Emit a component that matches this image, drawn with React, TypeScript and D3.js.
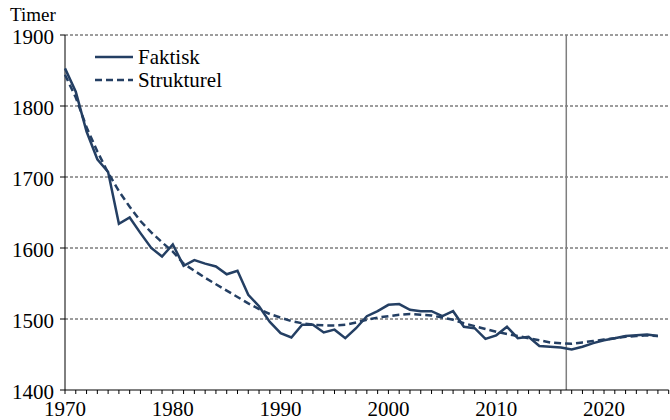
import React, { useEffect, useRef } from "react";
import * as d3 from "d3";

const years: number[] = d3.range(1970, 2026);
const faktisk: number[] = [
  1853, 1820, 1764, 1725, 1707, 1634, 1643, 1621, 1600, 1588,
  1605, 1575, 1583, 1578, 1574, 1563, 1568, 1534, 1518, 1496,
  1480, 1474, 1492, 1492, 1481, 1485, 1473, 1487, 1504, 1511,
  1520, 1521, 1513, 1511, 1511, 1504, 1511, 1489, 1487, 1472,
  1477, 1489, 1473, 1475, 1462, 1461, 1460, 1457, 1461, 1466,
  1470, 1473, 1476, 1477, 1478, 1476,
];
const strukturel: number[] = [
  1844, 1812, 1770, 1736, 1706, 1680, 1658, 1638, 1622, 1608,
  1595, 1578, 1568, 1558, 1549, 1540, 1531, 1522, 1514, 1507,
  1502, 1497, 1494, 1492, 1491, 1491, 1492, 1495, 1499, 1502,
  1504, 1506, 1507, 1506, 1505, 1502, 1499, 1494, 1490, 1486,
  1482, 1479, 1476, 1473, 1470, 1467, 1466, 1465, 1467, 1469,
  1471, 1473, 1475, 1476, 1477, 1476,
];
const yTicks: number[] = [1400, 1500, 1600, 1700, 1800, 1900];
const xLabels: number[] = [1970, 1980, 1990, 2000, 2010, 2020];
const seriesNames: string[] = ["Faktisk", "Strukturel"];
const yTitle = "Timer";
const markerYear = 2016.5;

const W = 670;
const H = 420;
const NAVY = "#243f63";
const FONT = "Times New Roman";

export default function App() {
  const ref = useRef<SVGSVGElement>(null);
  useEffect(() => {
    const svg = d3.select(ref.current);
    svg.selectAll("*").remove();
    const x = d3.scaleLinear().domain([1970, 2026]).range([65, 668.7]);
    const y = d3.scaleLinear().domain([1400, 1900]).range([390, 35]);
    const [x0, x1] = x.range();
    const line = d3
      .line<number>()
      .x((_, i) => x(years[i]))
      .y((d) => y(d));

    svg.append("rect").attr("width", W).attr("height", H).attr("fill", "#fff");

    svg
      .selectAll("line.grid")
      .data(yTicks.filter((t) => t > 1400))
      .join("line")
      .attr("x1", x0)
      .attr("x2", x1)
      .attr("y1", (d) => y(d))
      .attr("y2", (d) => y(d))
      .attr("stroke", "#3a3a3a")
      .attr("stroke-dasharray", "3,2");

    svg
      .append("line")
      .attr("x1", x(markerYear))
      .attr("x2", x(markerYear))
      .attr("y1", y(1900))
      .attr("y2", y(1400))
      .attr("stroke", "#7f7f7f")
      .attr("stroke-width", 1.5);

    svg.append("line").attr("x1", x0).attr("x2", x0).attr("y1", y(1900)).attr("y2", y(1400)).attr("stroke", "#000");
    svg.append("line").attr("x1", x0).attr("x2", x1).attr("y1", y(1400)).attr("y2", y(1400)).attr("stroke", "#000");

    svg
      .selectAll("line.yt")
      .data(yTicks)
      .join("line")
      .attr("x1", x0 - 5)
      .attr("x2", x0)
      .attr("y1", (d) => y(d))
      .attr("y2", (d) => y(d))
      .attr("stroke", "#000");

    svg
      .selectAll("line.xt")
      .data(d3.range(1970, 2027))
      .join("line")
      .attr("x1", (d) => x(d))
      .attr("x2", (d) => x(d))
      .attr("y1", y(1400))
      .attr("y2", y(1400) + 4)
      .attr("stroke", "#000");

    const addText = (tx: number, ty: number, s: string, size: number, anchor: string) =>
      svg
        .append("text")
        .attr("x", tx)
        .attr("y", ty)
        .attr("font-family", FONT)
        .style("font-family", `"${FONT}"`)
        .attr("font-size", size)
        .attr("text-anchor", anchor)
        .attr("fill", "#000")
        .text(s);

    yTicks.forEach((t) => addText(54, y(t) + 9, String(t), 21, "end"));
    xLabels.forEach((t) => addText(x(t), 416, String(t), 21, "middle"));
    addText(10, 21, yTitle, 19, "start");

    svg
      .append("path")
      .attr("d", line(strukturel) || "")
      .attr("fill", "none")
      .attr("stroke", NAVY)
      .attr("stroke-width", 2.5)
      .attr("stroke-dasharray", "7,4");
    svg
      .append("path")
      .attr("d", line(faktisk) || "")
      .attr("fill", "none")
      .attr("stroke", NAVY)
      .attr("stroke-width", 2.5);

    svg.append("line").attr("x1", 95).attr("x2", 133).attr("y1", 57).attr("y2", 57).attr("stroke", NAVY).attr("stroke-width", 2.5);
    addText(138, 64, seriesNames[0], 21, "start");
    svg
      .append("line")
      .attr("x1", 95)
      .attr("x2", 133)
      .attr("y1", 80)
      .attr("y2", 80)
      .attr("stroke", NAVY)
      .attr("stroke-width", 2.5)
      .attr("stroke-dasharray", "7,4");
    addText(138, 87, seriesNames[1], 21, "start");
  }, []);
  return (
    <svg ref={ref} width={W} height={H} style={{ position: "absolute", left: 0, top: 0 }} />
  );
}
